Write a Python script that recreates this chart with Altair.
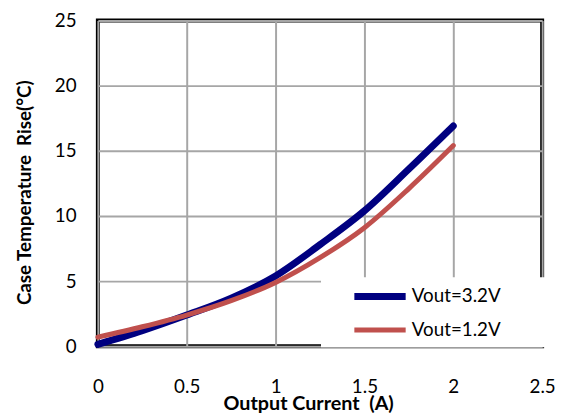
import altair as alt
import pandas as pd

current = [0, 0.25, 0.5, 0.75, 1.0, 1.25, 1.5, 1.75, 2.0]
rise_32 = [0.15, 1.2, 2.4, 3.7, 5.4, 7.8, 10.4, 13.6, 16.9]
rise_12 = [0.7, 1.5, 2.4, 3.5, 4.9, 6.8, 9.1, 12.1, 15.4]
series = ["Vout=3.2V", "Vout=1.2V"]
colors = ["#000080", "#c0504d"]

rows = []
for name, vals in zip(series, [rise_32, rise_12]):
    for x, y in zip(current, vals):
        rows.append({"I": x, "T": y, "s": name})
df = pd.DataFrame(rows)

font = "Lato"

chart = alt.Chart(df).mark_line(interpolate="monotone", strokeCap="round").encode(
    x=alt.X("I:Q", scale=alt.Scale(domain=[0, 2.5], nice=False),
            axis=alt.Axis(values=[0, 0.5, 1, 1.5, 2, 2.5], format="~g",
                          title="Output Current\u00a0\u00a0(A)",
                          labelPadding=32, titlePadding=-3, titleX=213, titleFontSize=20,
                          labelFlush=False)),
    y=alt.Y("T:Q", scale=alt.Scale(domain=[0, 25], nice=False),
            axis=alt.Axis(values=[0, 5, 10, 15, 20, 25], title="Case Temperature\u00a0\u00a0Rise(°C)",
                          labelPadding=22, titlePadding=20, titleFontSize=19, titleY=174)),
    color=alt.Color("s:N", scale=alt.Scale(domain=series, range=colors),
                    legend=alt.Legend(title=None, orient="none", legendX=226, legendY=260,
                                      fillColor="white", padding=7,
                                      symbolType="M1.65,0H7.65M24,0", symbolSize=300,
                                      symbolStrokeWidth=4,
                                      labelFontSize=19, labelFont=font, rowPadding=8,
                                      labelOffset=60, labelColor="black")),
    strokeWidth=alt.StrokeWidth("s:N", scale=alt.Scale(domain=series, range=[7, 5]), legend=None),
).properties(
    width=450, height=330,
    autosize=alt.AutoSizeParams(type="none"),
    padding={"left": 91, "top": 10, "right": 13, "bottom": 70},
).configure_view(
    stroke="black", strokeWidth=4
).configure_axis(
    grid=True, gridColor="#a6a6a6", gridWidth=2, domain=False, ticks=False,
    labelFont=font, labelFontSize=19, labelColor="black",
    titleFont=font, titleFontWeight="bold", titleColor="black",
)

chart.save("out.html", embed_options={"renderer": "svg", "actions": False})
